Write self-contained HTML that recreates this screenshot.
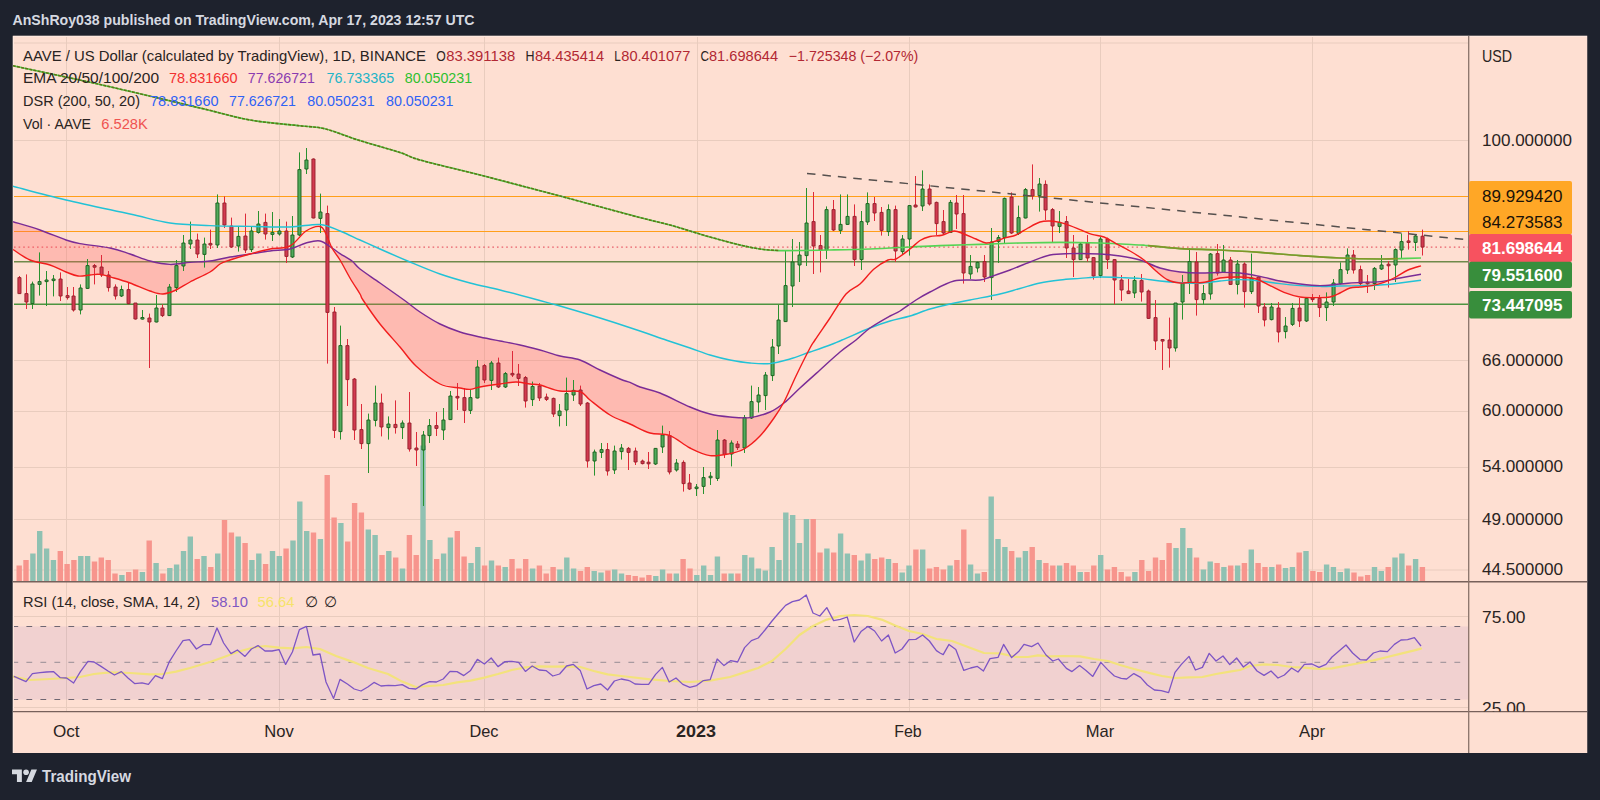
<!DOCTYPE html>
<html lang="en"><head><meta charset="utf-8"><title>AAVE / US Dollar chart</title>
<style>
html,body{margin:0;padding:0;background:#1e222d;}
body{width:1600px;height:800px;overflow:hidden;}
svg{display:block;font-family:"Liberation Sans",sans-serif;}
</style></head><body>
<svg width="1600" height="800" viewBox="0 0 1600 800">
<defs><clipPath id="cm"><rect x="13" y="36" width="1455.5" height="545.5"/></clipPath><clipPath id="cr"><rect x="13" y="582" width="1575" height="129.5"/></clipPath><clipPath id="ca"><rect x="13" y="36" width="1455.5" height="676"/></clipPath></defs>
<rect x="0" y="0" width="1600" height="800" fill="#1e222d"/>
<rect x="12.75" y="35.75" width="1574.5" height="717.25" fill="#fedfd2"/>
<path d="M13.3 753V36.3H1587" fill="none" stroke="#fff" stroke-opacity="0.35" stroke-width="1"/>
<path d="M66.5 37V711M279.5 37V711M484.5 37V711M697.5 37V711M909.5 37V711M1100.5 37V711M1312.5 37V711M14 43.0H1468M14 140.5H1468M14 360.5H1468M14 411.5H1468M14 467.5H1468M14 519.5H1468M14 570.0H1468M14 616.5H1468M14 707.5H1468" stroke="#e9ccbe" stroke-width="1" fill="none"/>
<g clip-path="url(#cm)">
<path d="M16.5 581.5V565.6h5.4V581.5zM23.3 581.5V560.0h5.4V581.5zM57.6 581.5V551.0h5.4V581.5zM64.4 581.5V564.0h5.4V581.5zM71.2 581.5V560.0h5.4V581.5zM91.8 581.5V561.6h5.4V581.5zM98.6 581.5V557.6h5.4V581.5zM105.5 581.5V560.0h5.4V581.5zM112.3 581.5V573.6h5.4V581.5zM126.0 581.5V572.0h5.4V581.5zM132.9 581.5V569.6h5.4V581.5zM146.5 581.5V540.4h5.4V581.5zM160.2 581.5V573.6h5.4V581.5zM194.5 581.5V559.0h5.4V581.5zM208.1 581.5V567.0h5.4V581.5zM221.8 581.5V520.0h5.4V581.5zM228.7 581.5V532.4h5.4V581.5zM242.4 581.5V543.0h5.4V581.5zM262.9 581.5V564.0h5.4V581.5zM283.4 581.5V548.4h5.4V581.5zM310.8 581.5V532.4h5.4V581.5zM324.5 581.5V475.0h5.4V581.5zM331.4 581.5V517.6h5.4V581.5zM345.0 581.5V541.6h5.4V581.5zM351.9 581.5V503.0h5.4V581.5zM358.7 581.5V512.4h5.4V581.5zM379.3 581.5V555.0h5.4V581.5zM393.0 581.5V557.6h5.4V581.5zM406.7 581.5V535.0h5.4V581.5zM413.5 581.5V555.0h5.4V581.5zM434.0 581.5V559.0h5.4V581.5zM454.6 581.5V531.0h5.4V581.5zM461.4 581.5V556.4h5.4V581.5zM481.9 581.5V565.6h5.4V581.5zM495.6 581.5V565.6h5.4V581.5zM509.3 581.5V559.0h5.4V581.5zM516.2 581.5V568.4h5.4V581.5zM523.0 581.5V559.0h5.4V581.5zM536.7 581.5V565.6h5.4V581.5zM543.5 581.5V573.6h5.4V581.5zM550.4 581.5V567.0h5.4V581.5zM577.8 581.5V571.0h5.4V581.5zM584.6 581.5V567.0h5.4V581.5zM605.2 581.5V570.4h5.4V581.5zM625.7 581.5V575.0h5.4V581.5zM632.5 581.5V576.0h5.4V581.5zM639.4 581.5V577.6h5.4V581.5zM646.2 581.5V575.0h5.4V581.5zM666.8 581.5V573.6h5.4V581.5zM680.4 581.5V559.0h5.4V581.5zM687.3 581.5V568.4h5.4V581.5zM721.5 581.5V573.6h5.4V581.5zM735.2 581.5V573.6h5.4V581.5zM810.5 581.5V519.0h5.4V581.5zM817.3 581.5V552.4h5.4V581.5zM831.0 581.5V552.4h5.4V581.5zM851.6 581.5V555.0h5.4V581.5zM872.1 581.5V559.0h5.4V581.5zM879.0 581.5V557.6h5.4V581.5zM892.6 581.5V563.0h5.4V581.5zM913.2 581.5V549.6h5.4V581.5zM926.9 581.5V568.4h5.4V581.5zM933.7 581.5V567.0h5.4V581.5zM940.6 581.5V569.6h5.4V581.5zM954.2 581.5V560.0h5.4V581.5zM961.1 581.5V529.6h5.4V581.5zM981.6 581.5V572.0h5.4V581.5zM1009.0 581.5V551.0h5.4V581.5zM1029.5 581.5V547.0h5.4V581.5zM1043.2 581.5V563.0h5.4V581.5zM1050.1 581.5V565.6h5.4V581.5zM1063.8 581.5V563.0h5.4V581.5zM1070.6 581.5V565.6h5.4V581.5zM1084.3 581.5V572.0h5.4V581.5zM1091.1 581.5V565.6h5.4V581.5zM1104.8 581.5V569.6h5.4V581.5zM1111.7 581.5V567.0h5.4V581.5zM1118.5 581.5V572.0h5.4V581.5zM1125.4 581.5V576.4h5.4V581.5zM1139.1 581.5V560.0h5.4V581.5zM1145.9 581.5V571.0h5.4V581.5zM1152.8 581.5V557.6h5.4V581.5zM1159.6 581.5V560.0h5.4V581.5zM1166.4 581.5V543.0h5.4V581.5zM1193.8 581.5V557.6h5.4V581.5zM1214.4 581.5V563.0h5.4V581.5zM1228.0 581.5V565.6h5.4V581.5zM1241.7 581.5V563.0h5.4V581.5zM1255.4 581.5V563.0h5.4V581.5zM1262.3 581.5V567.0h5.4V581.5zM1276.0 581.5V564.4h5.4V581.5zM1296.5 581.5V552.4h5.4V581.5zM1310.2 581.5V571.0h5.4V581.5zM1317.0 581.5V572.0h5.4V581.5zM1351.3 581.5V572.4h5.4V581.5zM1358.1 581.5V576.4h5.4V581.5zM1364.9 581.5V575.0h5.4V581.5zM1385.5 581.5V567.0h5.4V581.5zM1406.0 581.5V565.6h5.4V581.5zM1419.7 581.5V567.0h5.4V581.5z" fill="#f7958d"/>
<path d="M30.2 581.5V553.6h5.4V581.5zM37.0 581.5V531.0h5.4V581.5zM43.9 581.5V548.4h5.4V581.5zM50.7 581.5V560.0h5.4V581.5zM78.1 581.5V556.0h5.4V581.5zM84.9 581.5V556.0h5.4V581.5zM119.2 581.5V575.0h5.4V581.5zM139.7 581.5V572.0h5.4V581.5zM153.4 581.5V563.0h5.4V581.5zM167.1 581.5V568.0h5.4V581.5zM173.9 581.5V564.4h5.4V581.5zM180.8 581.5V551.0h5.4V581.5zM187.6 581.5V536.4h5.4V581.5zM201.3 581.5V556.0h5.4V581.5zM215.0 581.5V553.6h5.4V581.5zM235.5 581.5V536.4h5.4V581.5zM249.2 581.5V560.0h5.4V581.5zM256.1 581.5V553.6h5.4V581.5zM269.8 581.5V551.0h5.4V581.5zM276.6 581.5V556.0h5.4V581.5zM290.3 581.5V540.4h5.4V581.5zM297.1 581.5V501.6h5.4V581.5zM304.0 581.5V531.0h5.4V581.5zM317.7 581.5V539.0h5.4V581.5zM338.2 581.5V523.0h5.4V581.5zM365.6 581.5V529.6h5.4V581.5zM372.4 581.5V535.0h5.4V581.5zM386.1 581.5V551.0h5.4V581.5zM399.8 581.5V568.4h5.4V581.5zM420.3 581.5V445.6h5.4V581.5zM427.2 581.5V540.0h5.4V581.5zM440.9 581.5V553.6h5.4V581.5zM447.7 581.5V537.6h5.4V581.5zM468.3 581.5V563.0h5.4V581.5zM475.1 581.5V547.0h5.4V581.5zM488.8 581.5V560.4h5.4V581.5zM502.5 581.5V567.0h5.4V581.5zM529.9 581.5V568.4h5.4V581.5zM557.2 581.5V569.6h5.4V581.5zM564.1 581.5V557.6h5.4V581.5zM570.9 581.5V568.4h5.4V581.5zM591.5 581.5V571.0h5.4V581.5zM598.3 581.5V572.4h5.4V581.5zM612.0 581.5V569.6h5.4V581.5zM618.8 581.5V573.6h5.4V581.5zM653.1 581.5V576.0h5.4V581.5zM659.9 581.5V569.6h5.4V581.5zM673.6 581.5V573.6h5.4V581.5zM694.1 581.5V575.0h5.4V581.5zM701.0 581.5V565.6h5.4V581.5zM707.8 581.5V575.0h5.4V581.5zM714.7 581.5V556.4h5.4V581.5zM728.4 581.5V573.6h5.4V581.5zM742.1 581.5V555.0h5.4V581.5zM748.9 581.5V557.6h5.4V581.5zM755.7 581.5V568.4h5.4V581.5zM762.6 581.5V570.4h5.4V581.5zM769.4 581.5V547.0h5.4V581.5zM776.3 581.5V560.0h5.4V581.5zM783.1 581.5V512.4h5.4V581.5zM790.0 581.5V515.0h5.4V581.5zM796.8 581.5V543.0h5.4V581.5zM803.7 581.5V519.0h5.4V581.5zM824.2 581.5V548.4h5.4V581.5zM837.9 581.5V533.6h5.4V581.5zM844.7 581.5V553.6h5.4V581.5zM858.4 581.5V560.4h5.4V581.5zM865.3 581.5V553.6h5.4V581.5zM885.8 581.5V559.0h5.4V581.5zM899.5 581.5V572.4h5.4V581.5zM906.3 581.5V565.6h5.4V581.5zM920.0 581.5V549.6h5.4V581.5zM947.4 581.5V565.6h5.4V581.5zM967.9 581.5V564.4h5.4V581.5zM974.8 581.5V573.6h5.4V581.5zM988.5 581.5V496.4h5.4V581.5zM995.3 581.5V539.0h5.4V581.5zM1002.2 581.5V547.0h5.4V581.5zM1015.9 581.5V557.6h5.4V581.5zM1022.7 581.5V551.0h5.4V581.5zM1036.4 581.5V560.0h5.4V581.5zM1056.9 581.5V565.6h5.4V581.5zM1077.5 581.5V572.0h5.4V581.5zM1098.0 581.5V555.0h5.4V581.5zM1132.2 581.5V572.0h5.4V581.5zM1173.3 581.5V548.0h5.4V581.5zM1180.1 581.5V528.0h5.4V581.5zM1187.0 581.5V548.0h5.4V581.5zM1200.7 581.5V569.6h5.4V581.5zM1207.5 581.5V561.6h5.4V581.5zM1221.2 581.5V567.0h5.4V581.5zM1234.9 581.5V565.6h5.4V581.5zM1248.6 581.5V549.6h5.4V581.5zM1269.1 581.5V567.0h5.4V581.5zM1282.8 581.5V568.0h5.4V581.5zM1289.7 581.5V567.0h5.4V581.5zM1303.3 581.5V551.0h5.4V581.5zM1323.9 581.5V564.4h5.4V581.5zM1330.7 581.5V567.0h5.4V581.5zM1337.6 581.5V572.0h5.4V581.5zM1344.4 581.5V568.4h5.4V581.5zM1371.8 581.5V567.0h5.4V581.5zM1378.6 581.5V571.0h5.4V581.5zM1392.3 581.5V557.6h5.4V581.5zM1399.2 581.5V553.6h5.4V581.5zM1412.9 581.5V559.0h5.4V581.5z" fill="#8fc1b2"/>
<path d="M14 196.5H1468M14 231.5H1468" stroke="#ff9f1a" stroke-width="1.1" fill="none"/>
<path d="M14 261.7H1468" stroke="#6f8a4a" stroke-width="1.6" fill="none"/>
<path d="M14 304.3H1468" stroke="#4d9440" stroke-width="1.4" fill="none"/>
<path d="M14 247.2H1468" stroke="#e8606b" stroke-width="1.2" stroke-dasharray="1.6 3" fill="none"/>
<path d="M13 221.7 14 222.0 15 222.3 16 222.6 17 222.9 18 223.2 19 223.5 20 223.9 21 224.2 22 224.5 23 224.8 24 225.1 25 225.4 26 225.7 27 226.0 28 226.3 29 226.6 30 226.9 31 227.2 32 227.5 33 227.8 34 228.2 35 228.5 36 228.8 37 229.1 38 229.4 39 229.7 40 230.0 41 230.4 42 230.8 43 231.2 44 231.5 45 231.9 46 232.3 47 232.7 48 233.1 49 233.5 50 233.8 51 234.2 52 234.6 53 235.0 54 235.4 55 235.8 56 236.2 57 236.5 58 236.9 59 237.3 60 237.7 61 238.1 62 238.5 63 238.8 64 239.2 65 239.6 66 240.0 67 240.3 68 240.5 69 240.8 70 241.0 71 241.3 72 241.5 73 241.8 74 242.1 75 242.3 76 242.6 77 242.8 78 243.1 79 243.3 80 243.6 81 243.7 82 243.9 83 244.0 84 244.2 85 244.3 86 244.5 87 244.6 88 244.8 89 244.9 90 245.1 91 245.2 92 245.4 93 245.5 94 245.7 95 245.8 96 245.9 97 246.1 98 246.2 99 246.4 100 246.5 101 246.7 102 246.8 103 247.0 104 247.1 105 247.3 106 247.4 107 247.6 108 247.7 109 247.9 110 248.0 111 248.3 112 248.6 113 248.9 114 249.2 115 249.5 116 249.8 117 250.1 118 250.4 119 250.7 120 251.0 121 251.3 122 251.6 123 251.9 124 252.2 125 252.5 126 252.8 127 253.1 128 253.4 129 253.7 130 254.0 131 254.3 132 254.7 133 255.1 134 255.4 135 255.8 136 256.1 137 256.4 138 256.8 139 257.1 140 257.5 141 257.9 142 258.2 143 258.6 144 258.9 145 259.2 146 259.6 147 259.9 148 260.3 149 260.6 150 261.0 151 261.2 152 261.3 153 261.5 154 261.7 155 261.9 156 262.0 157 262.2 158 262.4 159 262.5 160 262.7 161 262.9 162 263.0 163 263.2 164 263.4 165 263.5 166 263.7 167 263.9 168 264.1 169 264.2 170 264.4 171 264.3 172 264.2 173 264.1 174 264.0 175 263.9 176 263.8 177 263.7 178 263.6 179 263.5 180 263.4 181 263.3 182 263.2 183 263.1 184 263.0 185 262.9 186 262.8 187 262.7 188 262.6 189 262.5 190 262.4 191 262.3 192 262.3 193 262.2 194 262.1 195 262.0 196 262.0 197 261.9 198 261.8 199 261.8 200 261.7 201 261.6 202 261.6 203 261.5 204 261.4 205 261.4 206 261.3 207 261.2 208 261.1 209 261.1 210 261.0 211 260.8 212 260.6 213 260.4 214 260.2 215 260.0 216 259.8 217 259.6 218 259.4 219 259.2 220 259.0 221 258.8 222 258.6 223 258.4 224 258.2 225 258.0 226 257.8 227 257.6 228 257.4 229 257.2 230 257.0 231 256.9 232 256.7 233 256.6 234 256.4 235 256.2 236 256.1 237 255.9 238 255.8 239 255.7 240 255.5 241 255.3 242 255.2 243 255.1 244 254.9 245 254.8 246 254.6 247 254.4 248 254.3 249 254.2 L249 254.3 248 254.6 247 254.9 246 255.2 245 255.5 244 255.8 243 256.1 242 256.4 241 256.7 240 257.0 239 257.3 238 257.6 237 257.9 236 258.2 235 258.5 234 258.8 233 259.1 232 259.4 231 259.7 230 260.0 229 260.4 228 260.8 227 261.2 226 261.6 225 262.0 224 262.4 223 262.8 222 263.2 221 263.6 220 264.0 219 264.8 218 265.6 217 266.4 216 267.2 215 268.0 214 268.8 213 269.6 212 270.4 211 271.2 210 272.0 209 272.5 208 273.0 207 273.5 206 274.0 205 274.5 204 275.0 203 275.5 202 276.0 201 276.5 200 277.0 199 277.5 198 278.0 197 278.5 196 279.0 195 279.5 194 280.0 193 280.5 192 281.0 191 281.5 190 282.0 189 282.6 188 283.1 187 283.7 186 284.3 185 284.9 184 285.4 183 286.0 182 286.6 181 287.1 180 287.7 179 288.3 178 288.9 177 289.4 176 290.0 175 290.3 174 290.6 173 290.9 172 291.2 171 291.5 170 291.8 169 292.2 168 292.5 167 292.8 166 293.1 165 293.4 164 293.7 163 294.0 162 293.8 161 293.5 160 293.3 159 293.1 158 292.8 157 292.6 156 292.4 155 292.2 154 291.9 153 291.7 152 291.5 151 291.2 150 291.0 149 290.6 148 290.2 147 289.8 146 289.4 145 289.0 144 288.6 143 288.2 142 287.8 141 287.4 140 287.0 139 286.6 138 286.2 137 285.8 136 285.4 135 285.0 134 284.6 133 284.2 132 283.8 131 283.4 130 283.0 129 282.7 128 282.4 127 282.1 126 281.8 125 281.4 124 281.1 123 280.8 122 280.5 121 280.2 120 279.9 119 279.6 118 279.2 117 278.9 116 278.6 115 278.3 114 278.0 113 277.7 112 277.5 111 277.2 110 277.0 109 276.7 108 276.5 107 276.2 106 275.9 105 275.7 104 275.4 103 275.2 102 274.9 101 274.7 100 274.4 99 274.5 98 274.5 97 274.6 96 274.6 95 274.7 94 274.8 93 274.8 92 274.9 91 274.9 90 275.0 89 275.1 88 275.2 87 275.2 86 275.3 85 275.4 84 275.5 83 275.6 82 275.7 81 275.8 80 275.8 79 275.9 78 276.0 77 275.7 76 275.3 75 275.0 74 274.7 73 274.3 72 274.0 71 273.7 70 273.3 69 273.0 68 272.7 67 272.3 66 272.0 65 271.6 64 271.1 63 270.7 62 270.2 61 269.8 60 269.4 59 268.9 58 268.5 57 268.1 56 267.6 55 267.2 54 266.8 53 266.3 52 265.9 51 265.4 50 265.0 49 264.8 48 264.5 47 264.2 46 264.0 45 263.8 44 263.5 43 263.2 42 263.0 41 262.8 40 262.5 39 262.2 38 262.0 37 261.8 36 261.5 35 261.2 34 261.0 33 260.8 32 260.5 31 260.2 30 260.0 29 259.4 28 258.8 27 258.1 26 257.5 25 256.9 24 256.3 23 255.7 22 255.1 21 254.4 20 253.8 19 253.2 18 252.6 17 252.0 16 251.4 15 250.7 14 250.1 13 249.5zM333 248.7 334 249.4 335 250.1 336 250.8 337 251.5 338 252.2 339 252.9 340 253.6 341 254.2 342 254.8 343 255.4 344 256.1 345 256.7 346 257.3 347 257.9 348 258.5 349 259.1 350 259.8 351 260.4 352 261.0 353 262.0 354 263.0 355 264.0 356 265.0 357 266.0 358 267.0 359 268.0 360 269.0 361 269.7 362 270.4 363 271.1 364 271.8 365 272.5 366 273.2 367 273.9 368 274.6 369 275.3 370 276.0 371 276.7 372 277.4 373 278.1 374 278.8 375 279.5 376 280.2 377 280.9 378 281.6 379 282.3 380 283.0 381 283.7 382 284.4 383 285.1 384 285.8 385 286.5 386 287.2 387 288.0 388 288.7 389 289.4 390 290.1 391 290.8 392 291.5 393 292.2 394 292.9 395 293.6 396 294.3 397 295.0 398 295.8 399 296.5 400 297.2 401 297.9 402 298.6 403 299.3 404 300.0 405 300.8 406 301.5 407 302.2 408 303.0 409 303.8 410 304.5 411 305.2 412 306.0 413 306.8 414 307.5 415 308.2 416 309.0 417 309.8 418 310.5 419 311.2 420 312.0 421 312.6 422 313.2 423 313.8 424 314.4 425 315.0 426 315.6 427 316.2 428 316.8 429 317.4 430 318.0 431 318.6 432 319.2 433 319.8 434 320.4 435 321.0 436 321.6 437 322.2 438 322.8 439 323.4 440 324.0 441 324.4 442 324.8 443 325.2 444 325.6 445 326.0 446 326.4 447 326.8 448 327.2 449 327.6 450 328.0 451 328.4 452 328.8 453 329.2 454 329.6 455 330.0 456 330.4 457 330.8 458 331.2 459 331.6 460 332.0 461 332.2 462 332.5 463 332.8 464 333.0 465 333.2 466 333.5 467 333.8 468 334.0 469 334.2 470 334.5 471 334.8 472 335.0 473 335.2 474 335.5 475 335.8 476 336.0 477 336.2 478 336.5 479 336.8 480 337.0 481 337.2 482 337.4 483 337.6 484 337.8 485 338.0 486 338.2 487 338.4 488 338.6 489 338.8 490 339.0 491 339.2 492 339.4 493 339.6 494 339.8 495 340.0 496 340.2 497 340.4 498 340.6 499 340.8 500 341.0 501 341.2 502 341.4 503 341.6 504 341.8 505 342.0 506 342.2 507 342.4 508 342.6 509 342.8 510 343.0 511 343.2 512 343.4 513 343.6 514 343.8 515 344.0 516 344.2 517 344.4 518 344.6 519 344.8 520 345.0 521 345.2 522 345.5 523 345.8 524 346.0 525 346.2 526 346.5 527 346.8 528 347.0 529 347.2 530 347.5 531 347.8 532 348.0 533 348.2 534 348.5 535 348.8 536 349.0 537 349.2 538 349.5 539 349.8 540 350.0 541 350.3 542 350.6 543 350.9 544 351.2 545 351.5 546 351.8 547 352.1 548 352.4 549 352.7 550 353.0 551 353.3 552 353.6 553 353.9 554 354.2 555 354.5 556 354.8 557 355.1 558 355.4 559 355.7 560 356.0 561 356.2 562 356.4 563 356.6 564 356.8 565 357.0 566 357.2 567 357.4 568 357.6 569 357.8 570 358.0 571 358.2 572 358.4 573 358.6 574 358.8 575 359.0 576 359.2 577 359.4 578 359.6 579 359.8 580 360.0 581 360.5 582 361.0 583 361.5 584 362.0 585 362.5 586 363.0 587 363.5 588 364.0 589 364.5 590 365.0 591 365.5 592 366.0 593 366.5 594 367.0 595 367.5 596 368.0 597 368.5 598 369.0 599 369.5 600 370.0 601 370.4 602 370.9 603 371.4 604 371.8 605 372.2 606 372.7 607 373.1 608 373.6 609 374.1 610 374.5 611 374.9 612 375.4 613 375.9 614 376.3 615 376.8 616 377.2 617 377.6 618 378.1 619 378.6 620 379.0 621 379.3 622 379.7 623 380.0 624 380.4 625 380.7 626 381.0 627 381.4 628 381.7 629 382.1 630 382.4 631 382.9 632 383.3 633 383.8 634 384.2 635 384.7 636 385.2 637 385.6 638 386.1 639 386.5 640 387.0 641 387.3 642 387.6 643 387.9 644 388.2 645 388.5 646 388.8 647 389.1 648 389.4 649 389.7 650 390.0 651 390.3 652 390.6 653 390.9 654 391.2 655 391.5 656 391.8 657 392.1 658 392.4 659 392.7 660 393.0 661 393.5 662 393.9 663 394.4 664 394.9 665 395.3 666 395.8 667 396.3 668 396.7 669 397.2 670 397.7 671 398.1 672 398.6 673 399.1 674 399.5 675 400.0 676 400.5 677 400.9 678 401.4 679 401.9 680 402.3 681 402.8 682 403.3 683 403.7 684 404.2 685 404.7 686 405.1 687 405.6 688 406.1 689 406.5 690 407.0 691 407.4 692 407.7 693 408.1 694 408.4 695 408.8 696 409.1 697 409.4 698 409.8 699 410.1 700 410.5 701 410.9 702 411.2 703 411.6 704 411.9 705 412.2 706 412.6 707 412.9 708 413.3 709 413.6 710 414.0 711 414.1 712 414.3 713 414.4 714 414.6 715 414.8 716 414.9 717 415.1 718 415.2 719 415.4 720 415.5 721 415.6 722 415.8 723 415.9 724 416.1 725 416.2 726 416.4 727 416.6 728 416.7 729 416.9 730 417.0 731 417.0 732 417.1 733 417.1 734 417.1 735 417.1 736 417.2 737 417.2 738 417.2 739 417.3 740 417.3 741 417.3 742 417.4 743 417.4 744 417.4 745 417.5 746 417.5 747 417.5 748 417.5 749 417.6 750 417.6 751 417.3 752 417.0 753 416.8 754 416.5 755 416.2 756 415.9 757 415.6 758 415.4 759 415.1 760 414.8 761 414.5 762 414.2 763 414.0 764 413.7 765 413.4 766 413.1 767 412.8 768 412.6 769 412.3 770 412.0 771 411.4 772 410.7 773 410.1 774 409.4 775 408.8 776 408.1 777 407.5 778 406.9 779 406.2 780 405.6 781 404.9 782 404.3 L782 405.2 781 406.8 780 408.4 779 410.0 778 411.6 777 413.2 776 414.8 775 416.4 774 418.0 773 419.3 772 420.6 771 421.9 770 423.1 769 424.4 768 425.7 767 427.0 766 428.3 765 429.6 764 430.9 763 432.1 762 433.4 761 434.7 760 436.0 759 436.8 758 437.6 757 438.4 756 439.2 755 440.1 754 440.9 753 441.7 752 442.5 751 443.3 750 444.1 749 444.9 748 445.8 747 446.6 746 447.4 745 448.2 744 449.0 743 449.3 742 449.7 741 450.0 740 450.3 739 450.6 738 451.0 737 451.3 736 451.6 735 452.0 734 452.3 733 452.6 732 452.9 731 453.3 730 453.6 729 453.7 728 453.8 727 453.9 726 454.0 725 454.1 724 454.2 723 454.3 722 454.4 721 454.5 720 454.6 719 454.7 718 454.8 717 454.9 716 455.0 715 455.1 714 455.2 713 455.3 712 455.4 711 455.5 710 455.6 709 455.2 708 454.8 707 454.5 706 454.1 705 453.7 704 453.3 703 452.9 702 452.6 701 452.2 700 451.8 699 451.4 698 451.0 697 450.7 696 450.3 695 449.9 694 449.5 693 449.1 692 448.8 691 448.4 690 448.0 689 447.4 688 446.8 687 446.1 686 445.5 685 444.9 684 444.3 683 443.7 682 443.0 681 442.4 680 441.8 679 441.2 678 440.6 677 439.9 676 439.3 675 438.7 674 438.1 673 437.5 672 436.8 671 436.2 670 435.6 669 435.5 668 435.3 667 435.2 666 435.1 665 435.0 664 434.8 663 434.7 662 434.6 661 434.4 660 434.3 659 434.2 658 434.0 657 433.9 656 433.8 655 433.6 654 433.5 653 433.4 652 433.3 651 433.1 650 433.0 649 432.6 648 432.1 647 431.6 646 431.2 645 430.8 644 430.3 643 429.9 642 429.4 641 428.9 640 428.5 639 428.1 638 427.6 637 427.1 636 426.7 635 426.2 634 425.8 633 425.4 632 424.9 631 424.4 630 424.0 629 423.6 628 423.1 627 422.6 626 422.2 625 421.8 624 421.3 623 420.9 622 420.4 621 419.9 620 419.5 619 419.1 618 418.6 617 418.1 616 417.7 615 417.2 614 416.8 613 416.4 612 415.9 611 415.4 610 415.0 609 414.2 608 413.5 607 412.8 606 412.0 605 411.2 604 410.5 603 409.8 602 409.0 601 408.2 600 407.5 599 406.8 598 406.0 597 405.2 596 404.5 595 403.8 594 403.0 593 402.2 592 401.5 591 400.8 590 400.0 589 399.2 588 398.3 587 397.5 586 396.6 585 395.8 584 395.0 583 394.1 582 393.3 581 392.4 580 391.6 579 391.6 578 391.5 577 391.5 576 391.5 575 391.5 574 391.4 573 391.4 572 391.4 571 391.3 570 391.3 569 391.3 568 391.2 567 391.2 566 391.2 565 391.1 564 391.1 563 391.1 562 391.1 561 391.0 560 391.0 559 390.7 558 390.4 557 390.1 556 389.8 555 389.5 554 389.2 553 388.9 552 388.6 551 388.3 550 388.0 549 387.7 548 387.4 547 387.1 546 386.8 545 386.5 544 386.2 543 385.9 542 385.6 541 385.3 540 385.0 539 384.9 538 384.8 537 384.7 536 384.6 535 384.5 534 384.4 533 384.3 532 384.2 531 384.1 530 384.0 529 383.9 528 383.7 527 383.6 526 383.4 525 383.3 524 383.1 523 383.0 522 382.9 521 382.7 520 382.6 519 382.4 518 382.3 517 382.1 516 382.0 515 382.1 514 382.2 513 382.4 512 382.5 511 382.6 510 382.8 509 382.9 508 383.0 507 383.1 506 383.2 505 383.4 504 383.5 503 383.6 502 383.8 501 383.9 500 384.0 499 384.1 498 384.3 497 384.4 496 384.6 495 384.8 494 384.9 493 385.1 492 385.2 491 385.4 490 385.5 489 385.6 488 385.8 487 385.9 486 386.1 485 386.2 484 386.4 483 386.6 482 386.7 481 386.9 480 387.0 479 387.2 478 387.5 477 387.7 476 388.0 475 388.2 474 388.4 473 388.7 472 388.9 471 389.2 470 389.4 469 389.3 468 389.1 467 389.0 466 388.8 465 388.7 464 388.6 463 388.4 462 388.3 461 388.1 460 388.0 459 387.8 458 387.6 457 387.4 456 387.2 455 387.0 454 386.8 453 386.6 452 386.4 451 386.2 450 386.0 449 385.8 448 385.6 447 385.4 446 385.2 445 385.0 444 384.8 443 384.6 442 384.4 441 384.2 440 384.0 439 383.2 438 382.5 437 381.8 436 381.0 435 380.2 434 379.5 433 378.8 432 378.0 431 377.2 430 376.5 429 375.8 428 375.0 427 374.2 426 373.5 425 372.8 424 372.0 423 371.2 422 370.5 421 369.8 420 369.0 419 368.2 418 367.5 417 366.8 416 366.0 415 364.8 414 363.6 413 362.4 412 361.2 411 360.1 410 358.9 409 357.7 408 356.5 407 355.3 406 354.1 405 352.9 404 351.8 403 350.6 402 349.4 401 348.2 400 347.0 399 345.9 398 344.7 397 343.6 396 342.4 395 341.2 394 340.1 393 338.9 392 337.8 391 336.6 390 335.5 389 334.4 388 333.2 387 332.1 386 330.9 385 329.8 384 328.6 383 327.4 382 326.3 381 325.1 380 324.0 379 322.6 378 321.2 377 319.8 376 318.4 375 316.9 374 315.5 373 314.1 372 312.7 371 311.3 370 309.9 369 308.5 368 307.1 367 305.6 366 304.2 365 302.8 364 301.4 363 300.0 362 298.0 361 296.0 360 294.0 359 292.4 358 290.8 357 289.2 356 287.6 355 286.0 354 284.4 353 282.8 352 281.2 351 279.6 350 278.0 349 276.2 348 274.4 347 272.6 346 270.8 345 269.0 344 267.2 343 265.4 342 263.6 341 261.8 340 260.0 339 258.5 338 257.0 337 255.5 336 254.0 335 252.5 334 251.0 333 249.5zM1148 263.2 1149 263.6 1150 264.0 1151 264.4 1152 264.8 1153 265.2 1154 265.6 1155 266.0 1156 266.4 1157 266.8 1158 267.2 1159 267.6 1160 268.0 1161 268.2 1162 268.4 1163 268.6 1164 268.8 1165 269.0 1166 269.2 1167 269.4 1168 269.6 1169 269.8 1170 270.0 1171 270.2 1172 270.4 1173 270.6 1174 270.8 1175 271.0 1176 271.2 1177 271.4 1178 271.6 1179 271.8 1180 272.0 1181 272.1 1182 272.1 1183 272.1 1184 272.2 1185 272.2 1186 272.3 1187 272.4 1188 272.4 1189 272.4 1190 272.5 1191 272.6 1192 272.6 1193 272.6 1194 272.7 1195 272.8 1196 272.8 1197 272.9 1198 272.9 1199 272.9 1200 273.0 1201 273.0 1202 272.9 1203 272.9 1204 272.9 1205 272.9 1206 272.8 1207 272.8 1208 272.8 1209 272.7 1210 272.7 1211 272.7 1212 272.6 1213 272.6 1214 272.6 1215 272.5 1216 272.5 1217 272.5 1218 272.5 1219 272.4 1220 272.4 1221 272.4 1222 272.5 1223 272.5 1224 272.5 1225 272.5 1226 272.6 1227 272.6 1228 272.6 1229 272.7 1230 272.7 1231 272.7 1232 272.8 1233 272.8 1234 272.8 1235 272.9 1236 272.9 1237 272.9 1238 272.9 1239 273.0 1240 273.0 1241 273.2 1242 273.3 1243 273.5 1244 273.7 1245 273.9 1246 274.0 1247 274.2 1248 274.4 1249 274.5 1250 274.7 1251 274.9 1252 275.0 1253 275.2 1254 275.4 1255 275.5 1256 275.7 1257 275.9 1258 276.1 1259 276.2 1260 276.4 1261 276.6 1262 276.9 1263 277.1 1264 277.3 1265 277.5 1266 277.8 1267 278.0 1268 278.2 1269 278.5 1270 278.7 1271 278.9 1272 279.2 1273 279.4 1274 279.6 1275 279.9 1276 280.1 1277 280.3 1278 280.5 1279 280.8 1280 281.0 1281 281.1 1282 281.3 1283 281.4 1284 281.6 1285 281.8 1286 281.9 1287 282.1 1288 282.2 1289 282.4 1290 282.5 1291 282.6 1292 282.8 1293 282.9 1294 283.1 1295 283.2 1296 283.4 1297 283.6 1298 283.7 1299 283.9 1300 284.0 1301 284.1 1302 284.2 1303 284.2 1304 284.3 1305 284.4 1306 284.5 1307 284.6 1308 284.6 1309 284.7 1310 284.8 1311 284.9 1312 285.0 1313 285.0 1314 285.1 1315 285.2 1316 285.3 1317 285.4 1318 285.4 1319 285.5 1320 285.6 1321 285.5 1322 285.4 1323 285.4 1324 285.3 1325 285.2 1326 285.1 1327 285.0 1328 285.0 1329 284.9 1330 284.8 1331 284.7 1332 284.6 1333 284.6 1334 284.5 1335 284.4 1336 284.3 1337 284.2 1338 284.2 1339 284.1 1340 284.0 1341 283.9 1342 283.8 1343 283.8 1344 283.7 1345 283.6 1346 283.5 1347 283.4 1348 283.4 1349 283.3 1350 283.2 1351 283.1 1352 283.0 1353 283.0 1354 282.9 1355 282.8 1356 282.7 1357 282.6 1358 282.6 1359 282.5 1360 282.4 1361 282.4 1362 282.3 1363 282.3 1364 282.2 1365 282.2 1366 282.2 1367 282.1 1368 282.1 1369 282.0 1370 282.0 1371 282.0 1372 281.9 1373 281.9 1374 281.8 1375 281.8 1376 281.8 1377 281.7 1378 281.7 1379 281.6 1380 281.6 1381 281.4 1382 281.2 1383 281.1 1384 280.9 1385 280.7 1386 280.5 1387 280.3 1388 280.2 1389 280.0 L1389 280.1 1388 280.6 1387 281.0 1386 281.5 1385 281.9 1384 282.4 1383 282.7 1382 282.9 1381 283.2 1380 283.5 1379 283.7 1378 284.0 1377 284.3 1376 284.5 1375 284.8 1374 285.1 1373 285.3 1372 285.6 1371 285.7 1370 285.8 1369 286.0 1368 286.1 1367 286.2 1366 286.3 1365 286.4 1364 286.5 1363 286.6 1362 286.8 1361 286.9 1360 287.0 1359 287.1 1358 287.2 1357 287.3 1356 287.4 1355 287.5 1354 287.6 1353 287.7 1352 287.8 1351 287.9 1350 288.0 1349 288.5 1348 289.0 1347 289.5 1346 290.0 1345 290.5 1344 291.0 1343 291.5 1342 292.0 1341 292.5 1340 293.0 1339 293.4 1338 293.8 1337 294.2 1336 294.6 1335 295.0 1334 295.4 1333 295.8 1332 296.2 1331 296.6 1330 297.0 1329 297.0 1328 297.1 1327 297.1 1326 297.2 1325 297.2 1324 297.3 1323 297.3 1322 297.3 1321 297.4 1320 297.4 1319 297.5 1318 297.5 1317 297.6 1316 297.6 1315 297.6 1314 297.5 1313 297.5 1312 297.5 1311 297.4 1310 297.4 1309 297.3 1308 297.3 1307 297.3 1306 297.2 1305 297.2 1304 297.1 1303 297.1 1302 297.1 1301 297.0 1300 297.0 1299 296.7 1298 296.4 1297 296.1 1296 295.9 1295 295.6 1294 295.3 1293 295.0 1292 294.7 1291 294.4 1290 294.1 1289 293.8 1288 293.5 1287 293.3 1286 293.0 1285 292.7 1284 292.4 1283 291.9 1282 291.4 1281 290.9 1280 290.5 1279 290.0 1278 289.5 1277 289.0 1276 288.5 1275 288.0 1274 287.5 1273 287.1 1272 286.6 1271 286.1 1270 285.6 1269 285.1 1268 284.7 1267 284.2 1266 283.7 1265 283.2 1264 282.8 1263 282.3 1262 281.8 1261 281.4 1260 280.9 1259 280.4 1258 279.9 1257 279.5 1256 279.0 1255 278.9 1254 278.8 1253 278.6 1252 278.5 1251 278.4 1250 278.2 1249 278.1 1248 278.0 1247 277.9 1246 277.8 1245 277.6 1244 277.5 1243 277.4 1242 277.2 1241 277.1 1240 277.0 1239 277.1 1238 277.1 1237 277.1 1236 277.2 1235 277.2 1234 277.3 1233 277.4 1232 277.4 1231 277.4 1230 277.5 1229 277.6 1228 277.6 1227 277.6 1226 277.7 1225 277.8 1224 277.8 1223 277.9 1222 277.9 1221 277.9 1220 278.0 1219 278.3 1218 278.6 1217 278.9 1216 279.2 1215 279.5 1214 279.8 1213 280.1 1212 280.4 1211 280.7 1210 281.0 1209 281.2 1208 281.3 1207 281.5 1206 281.7 1205 281.9 1204 282.0 1203 282.2 1202 282.4 1201 282.5 1200 282.7 1199 282.7 1198 282.6 1197 282.6 1196 282.6 1195 282.5 1194 282.5 1193 282.5 1192 282.5 1191 282.4 1190 282.4 1189 282.5 1188 282.5 1187 282.6 1186 282.6 1185 282.7 1184 282.8 1183 282.8 1182 282.9 1181 282.9 1180 283.0 1179 282.8 1178 282.5 1177 282.2 1176 282.0 1175 281.8 1174 281.5 1173 281.2 1172 281.0 1171 280.8 1170 280.5 1169 280.2 1168 280.0 1167 279.2 1166 278.5 1165 277.8 1164 277.0 1163 276.2 1162 275.5 1161 274.8 1160 274.0 1159 273.2 1158 272.5 1157 271.8 1156 271.0 1155 270.1 1154 269.2 1153 268.2 1152 267.3 1151 266.4 1150 265.5 1149 264.6 1148 263.7z" fill="#ff5a5a" fill-opacity="0.27"/>
<path d="M32.5 281.6V309.0M39.5 252.4V295.6M46.5 271.0V306.0M53.5 275.0V296.4M80.5 284.4V314.4M87.5 259.0V289.0M121.5 285.6V297.0M142.5 310.0V319.6M156.5 295.0V322.4M169.5 284.0V316.0M176.5 260.0V292.0M183.5 235.0V271.0M190.5 221.6V249.0M204.5 237.6V267.6M217.5 194.4V248.0M238.5 226.0V251.6M251.5 226.0V252.0M258.5 211.0V233.6M272.5 212.0V241.0M279.5 219.0V235.6M292.5 216.0V258.0M299.5 152.4V236.0M306.5 148.0V174.0M320.5 193.6V233.0M340.5 325.6V439.6M368.5 413.6V473.0M375.5 385.6V426.4M388.5 416.4V439.6M402.5 420.4V439.0M423.5 431.0V506.0M429.5 419.0V443.0M443.5 408.0V440.0M450.5 391.0V420.0M470.5 390.0V414.0M477.5 360.0V398.4M491.5 361.0V390.0M505.5 372.0V388.0M532.5 381.6V406.0M559.5 404.0V426.4M566.5 377.6V426.0M573.5 380.0V401.0M594.5 449.6V475.6M601.5 443.0V458.0M614.5 445.6V474.0M621.5 444.0V459.6M655.5 448.0V465.0M662.5 425.6V453.0M676.5 459.0V471.6M696.5 484.0V496.0M703.5 467.0V494.0M710.5 472.0V485.0M717.5 430.0V481.0M731.5 440.4V466.4M744.5 415.0V453.0M751.5 385.6V419.0M758.5 387.0V412.4M765.5 372.0V410.0M772.5 339.0V381.0M778.5 305.0V354.0M785.5 251.0V322.0M792.5 239.0V307.0M799.5 242.0V282.0M806.5 188.0V266.0M826.5 206.4V259.0M840.5 194.4V234.0M847.5 194.4V225.0M861.5 211.0V270.0M867.5 192.4V225.0M888.5 204.4V236.0M902.5 235.0V255.0M909.5 205.0V255.6M922.5 170.4V211.0M950.5 200.0V233.0M970.5 255.0V279.0M977.5 261.6V272.4M991.5 228.0V300.0M998.5 235.0V263.0M1004.5 197.6V243.6M1018.5 205.6V235.0M1025.5 188.0V218.4M1039.5 178.0V211.6M1059.5 211.0V233.0M1080.5 242.4V260.0M1100.5 237.0V278.0M1134.5 276.0V298.0M1175.5 303.0V351.6M1182.5 275.0V319.6M1189.5 248.0V294.0M1203.5 285.0V304.4M1210.5 253.0V299.6M1223.5 245.0V273.0M1237.5 260.0V294.4M1251.5 253.6V294.0M1271.5 303.0V320.4M1285.5 317.0V338.4M1292.5 303.0V326.0M1306.5 297.0V322.0M1326.5 292.4V321.0M1333.5 279.0V306.0M1340.5 262.4V284.4M1347.5 248.4V274.0M1374.5 267.0V290.0M1381.5 255.0V270.0M1395.5 248.4V282.0M1401.5 233.6V258.0M1415.5 235.0V251.0" stroke="#2a9230" stroke-width="1" fill="none"/>
<path d="M19.5 276.0V294.0M26.5 274.4V309.0M60.5 272.4V301.0M67.5 287.0V299.6M73.5 287.0V311.6M94.5 264.0V284.4M101.5 255.0V277.0M108.5 271.0V291.6M115.5 284.4V299.6M128.5 283.0V304.4M135.5 303.0V319.6M149.5 313.6V368.0M162.5 304.4V317.0M197.5 233.6V258.0M210.5 229.6V249.0M224.5 196.4V228.0M231.5 217.6V248.0M245.5 213.6V253.0M265.5 213.6V239.6M286.5 221.6V263.0M313.5 158.4V218.4M327.5 205.6V363.6M334.5 307.0V438.0M347.5 339.0V406.0M354.5 378.0V440.0M361.5 404.0V449.0M381.5 393.6V436.4M395.5 400.4V433.6M409.5 392.0V451.6M416.5 432.0V466.0M436.5 412.0V436.0M457.5 383.0V410.0M464.5 388.0V423.0M484.5 364.0V383.0M498.5 357.6V388.0M512.5 351.0V377.0M518.5 364.0V386.0M525.5 376.0V407.6M539.5 383.0V401.0M546.5 393.6V401.0M553.5 397.6V417.0M580.5 385.6V406.0M587.5 402.0V467.6M607.5 443.0V475.6M628.5 447.0V470.0M635.5 447.6V465.0M642.5 459.6V464.4M648.5 452.0V469.0M669.5 431.0V474.4M683.5 460.4V491.6M689.5 474.0V490.0M724.5 439.0V458.0M737.5 441.0V450.0M813.5 192.0V274.0M820.5 235.0V272.4M833.5 200.0V231.0M854.5 204.4V266.0M874.5 197.0V221.0M881.5 207.0V235.6M895.5 205.6V262.0M915.5 176.0V207.4M929.5 184.4V205.6M936.5 201.6V235.0M943.5 210.0V234.0M956.5 195.0V229.0M963.5 195.0V283.6M984.5 255.0V282.0M1011.5 192.4V234.0M1032.5 164.4V199.6M1045.5 180.4V220.0M1052.5 208.0V243.0M1066.5 216.0V258.0M1073.5 235.0V277.0M1087.5 235.0V261.6M1093.5 257.0V279.6M1107.5 237.6V269.0M1114.5 259.0V304.4M1121.5 275.0V301.0M1128.5 279.0V294.0M1141.5 274.0V301.6M1148.5 289.6V319.0M1155.5 300.0V350.0M1162.5 339.0V370.0M1169.5 317.6V367.6M1196.5 252.0V315.6M1217.5 244.0V275.6M1230.5 257.0V285.0M1244.5 262.4V307.6M1258.5 276.0V313.0M1264.5 303.0V326.4M1278.5 302.0V342.4M1299.5 298.0V327.0M1312.5 294.0V302.0M1319.5 295.0V317.0M1353.5 250.0V273.6M1360.5 265.6V285.6M1367.5 275.0V293.0M1388.5 261.0V287.6M1408.5 231.0V249.6M1422.5 229.6V255.5" stroke="#de2a3a" stroke-width="1" fill="none"/>
<path d="M30.9 284.0h3.1V303.6h-3.1zM38.0 281.6h3.1V284.4h-3.1zM45.0 280.0h3.1V281.6h-3.1zM52.0 279.0h3.1V280.6h-3.1zM79.0 288.0h3.1V310.0h-3.1zM86.0 265.6h3.1V288.4h-3.1zM120.0 289.6h3.1V296.0h-3.1zM140.9 317.5h3.1V319.1h-3.1zM154.9 308.0h3.1V322.0h-3.1zM167.9 287.0h3.1V315.6h-3.1zM174.9 265.6h3.1V287.6h-3.1zM181.9 243.0h3.1V266.0h-3.1zM188.9 240.0h3.1V244.0h-3.1zM202.9 244.0h3.1V254.4h-3.1zM215.9 203.0h3.1V245.0h-3.1zM236.9 236.4h3.1V246.0h-3.1zM249.9 231.0h3.1V249.6h-3.1zM256.9 224.0h3.1V232.4h-3.1zM270.9 232.4h3.1V234.4h-3.1zM277.9 231.0h3.1V234.0h-3.1zM290.9 235.0h3.1V257.0h-3.1zM297.9 169.6h3.1V235.0h-3.1zM304.9 160.0h3.1V169.0h-3.1zM318.9 212.0h3.1V218.4h-3.1zM338.9 345.6h3.1V431.6h-3.1zM366.9 420.0h3.1V443.6h-3.1zM373.9 403.0h3.1V420.4h-3.1zM386.9 424.0h3.1V427.6h-3.1zM400.9 423.0h3.1V427.6h-3.1zM421.9 435.0h3.1V450.0h-3.1zM427.9 425.6h3.1V435.6h-3.1zM441.9 420.0h3.1V430.0h-3.1zM448.9 396.0h3.1V419.6h-3.1zM468.9 397.6h3.1V410.4h-3.1zM475.9 367.0h3.1V398.0h-3.1zM489.9 363.0h3.1V380.4h-3.1zM503.9 373.6h3.1V387.0h-3.1zM531.0 386.4h3.1V399.6h-3.1zM558.0 411.0h3.1V415.6h-3.1zM565.0 393.6h3.1V410.0h-3.1zM572.0 390.4h3.1V395.0h-3.1zM593.0 452.0h3.1V461.0h-3.1zM600.0 449.6h3.1V452.4h-3.1zM613.0 451.0h3.1V470.0h-3.1zM620.0 448.0h3.1V451.6h-3.1zM654.0 448.4h3.1V464.0h-3.1zM661.0 435.0h3.1V447.0h-3.1zM675.0 463.0h3.1V470.0h-3.1zM695.0 487.0h3.1V488.6h-3.1zM702.0 477.6h3.1V486.4h-3.1zM709.0 476.2h3.1V477.8h-3.1zM716.0 440.0h3.1V478.4h-3.1zM730.0 443.0h3.1V454.0h-3.1zM743.0 417.6h3.1V448.0h-3.1zM750.0 401.6h3.1V418.0h-3.1zM757.0 395.0h3.1V402.0h-3.1zM764.0 375.0h3.1V395.6h-3.1zM771.0 347.0h3.1V375.6h-3.1zM777.0 320.0h3.1V346.0h-3.1zM784.0 285.6h3.1V321.6h-3.1zM791.0 262.0h3.1V286.0h-3.1zM798.0 255.0h3.1V265.0h-3.1zM805.0 223.0h3.1V255.6h-3.1zM825.0 209.6h3.1V250.0h-3.1zM839.0 224.4h3.1V230.4h-3.1zM846.0 216.4h3.1V224.4h-3.1zM860.0 221.6h3.1V259.6h-3.1zM866.0 203.6h3.1V222.0h-3.1zM887.0 209.6h3.1V231.6h-3.1zM901.0 239.0h3.1V251.6h-3.1zM908.0 205.6h3.1V239.0h-3.1zM921.0 189.0h3.1V206.0h-3.1zM949.0 202.4h3.1V232.4h-3.1zM969.0 266.4h3.1V274.0h-3.1zM976.0 262.4h3.1V268.0h-3.1zM990.0 242.0h3.1V277.6h-3.1zM997.0 237.6h3.1V241.6h-3.1zM1003.0 198.4h3.1V237.6h-3.1zM1017.0 217.6h3.1V233.6h-3.1zM1024.0 189.6h3.1V218.0h-3.1zM1038.0 184.0h3.1V195.6h-3.1zM1058.0 222.4h3.1V226.4h-3.1zM1079.0 244.0h3.1V259.6h-3.1zM1099.0 239.0h3.1V275.6h-3.1zM1133.0 280.4h3.1V293.0h-3.1zM1174.0 303.0h3.1V348.0h-3.1zM1181.0 283.0h3.1V302.0h-3.1zM1188.0 261.6h3.1V283.0h-3.1zM1202.0 293.6h3.1V299.6h-3.1zM1209.0 254.0h3.1V294.0h-3.1zM1222.0 260.0h3.1V272.4h-3.1zM1236.0 264.0h3.1V284.4h-3.1zM1250.0 278.0h3.1V291.6h-3.1zM1270.0 307.0h3.1V319.6h-3.1zM1284.0 326.0h3.1V331.6h-3.1zM1291.0 308.4h3.1V324.4h-3.1zM1305.0 298.4h3.1V321.0h-3.1zM1325.0 302.0h3.1V307.6h-3.1zM1332.0 283.0h3.1V302.0h-3.1zM1339.0 269.6h3.1V283.6h-3.1zM1346.0 255.0h3.1V270.0h-3.1zM1373.0 268.4h3.1V283.6h-3.1zM1380.0 265.0h3.1V269.0h-3.1zM1394.0 249.6h3.1V265.0h-3.1zM1400.0 241.6h3.1V250.0h-3.1zM1414.0 236.0h3.1V242.4h-3.1z" fill="#52ab5c" stroke="#175f1c" stroke-width="0.9"/>
<path d="M17.9 277.6h3.1V293.6h-3.1zM24.9 293.6h3.1V302.0h-3.1zM59.0 279.0h3.1V296.0h-3.1zM66.0 295.6h3.1V297.6h-3.1zM72.0 296.0h3.1V310.0h-3.1zM93.0 265.6h3.1V267.2h-3.1zM100.0 267.0h3.1V275.0h-3.1zM107.0 275.0h3.1V287.6h-3.1zM114.0 287.0h3.1V296.0h-3.1zM127.0 289.6h3.1V303.6h-3.1zM133.9 303.0h3.1V319.0h-3.1zM147.9 318.0h3.1V322.0h-3.1zM160.9 308.0h3.1V315.6h-3.1zM195.9 240.0h3.1V254.0h-3.1zM208.9 243.4h3.1V245.0h-3.1zM222.9 203.0h3.1V225.0h-3.1zM229.9 226.0h3.1V247.0h-3.1zM243.9 236.0h3.1V250.0h-3.1zM263.9 222.4h3.1V234.0h-3.1zM284.9 231.0h3.1V256.4h-3.1zM311.9 159.0h3.1V218.0h-3.1zM325.9 213.6h3.1V312.4h-3.1zM332.9 312.0h3.1V430.4h-3.1zM345.9 345.6h3.1V379.6h-3.1zM352.9 379.0h3.1V430.0h-3.1zM359.9 429.6h3.1V443.6h-3.1zM379.9 403.0h3.1V427.0h-3.1zM393.9 424.4h3.1V427.6h-3.1zM407.9 423.0h3.1V449.0h-3.1zM414.9 448.0h3.1V450.0h-3.1zM434.9 425.6h3.1V428.4h-3.1zM455.9 396.4h3.1V398.0h-3.1zM462.9 397.6h3.1V410.4h-3.1zM482.9 365.6h3.1V380.0h-3.1zM496.9 363.0h3.1V387.0h-3.1zM510.9 373.4h3.1V375.0h-3.1zM517.0 374.0h3.1V378.4h-3.1zM524.0 377.6h3.1V401.0h-3.1zM538.0 386.0h3.1V398.0h-3.1zM545.0 397.0h3.1V399.4h-3.1zM552.0 398.4h3.1V414.0h-3.1zM579.0 390.0h3.1V404.0h-3.1zM586.0 403.0h3.1V461.0h-3.1zM606.0 449.6h3.1V471.0h-3.1zM627.0 448.4h3.1V452.4h-3.1zM634.0 451.0h3.1V462.0h-3.1zM641.0 461.0h3.1V463.6h-3.1zM647.0 462.2h3.1V463.8h-3.1zM668.0 435.6h3.1V472.0h-3.1zM682.0 462.4h3.1V483.6h-3.1zM688.0 483.0h3.1V489.0h-3.1zM723.0 440.0h3.1V454.4h-3.1zM736.0 444.0h3.1V447.6h-3.1zM812.0 221.6h3.1V246.0h-3.1zM819.0 245.6h3.1V250.4h-3.1zM832.0 209.6h3.1V230.0h-3.1zM853.0 216.4h3.1V259.6h-3.1zM873.0 203.6h3.1V213.0h-3.1zM880.0 212.4h3.1V230.4h-3.1zM894.0 209.6h3.1V251.0h-3.1zM914.0 205.0h3.1V207.0h-3.1zM928.0 189.0h3.1V204.0h-3.1zM935.0 202.4h3.1V223.6h-3.1zM942.0 221.6h3.1V233.0h-3.1zM955.0 203.0h3.1V214.0h-3.1zM962.0 213.6h3.1V273.0h-3.1zM983.0 261.6h3.1V277.0h-3.1zM1010.0 197.0h3.1V233.0h-3.1zM1031.0 189.6h3.1V196.0h-3.1zM1044.0 184.4h3.1V210.0h-3.1zM1051.0 209.6h3.1V226.0h-3.1zM1065.0 221.6h3.1V248.0h-3.1zM1072.0 248.0h3.1V259.6h-3.1zM1086.0 243.0h3.1V258.0h-3.1zM1092.0 257.6h3.1V276.0h-3.1zM1106.0 239.0h3.1V259.6h-3.1zM1113.0 259.6h3.1V280.0h-3.1zM1120.0 280.0h3.1V290.0h-3.1zM1127.0 291.0h3.1V293.6h-3.1zM1140.0 280.4h3.1V292.0h-3.1zM1147.0 291.0h3.1V318.4h-3.1zM1154.0 317.6h3.1V341.0h-3.1zM1161.0 339.5h3.1V341.1h-3.1zM1168.0 340.0h3.1V348.0h-3.1zM1195.0 262.0h3.1V299.6h-3.1zM1216.0 253.6h3.1V273.0h-3.1zM1229.0 260.0h3.1V284.4h-3.1zM1243.0 264.0h3.1V291.6h-3.1zM1257.0 277.0h3.1V306.0h-3.1zM1263.0 307.0h3.1V320.0h-3.1zM1277.0 308.0h3.1V332.0h-3.1zM1298.0 308.0h3.1V321.0h-3.1zM1311.0 298.0h3.1V299.6h-3.1zM1318.0 298.4h3.1V307.6h-3.1zM1352.0 255.0h3.1V270.0h-3.1zM1359.0 269.6h3.1V283.6h-3.1zM1366.0 282.2h3.1V283.8h-3.1zM1387.0 264.2h3.1V265.8h-3.1zM1407.0 240.9h3.1V242.5h-3.1zM1421.0 236.2h3.1V247.1h-3.1z" fill="#d23a50" stroke="#93202b" stroke-width="0.9"/>
<path d="M13.0 186.2C21.8 188.5 46.5 195.4 66.0 200.0C85.5 204.6 112.7 210.2 130.0 214.0C147.3 217.8 156.7 221.1 170.0 223.0C183.3 224.9 196.7 225.0 210.0 225.6C223.3 226.2 236.7 226.2 250.0 226.4C263.3 226.6 278.3 227.3 290.0 227.0C301.7 226.7 311.7 223.8 320.0 224.5C328.3 225.2 333.3 228.4 340.0 231.0C346.7 233.6 353.3 237.0 360.0 240.0C366.7 243.0 371.7 245.3 380.0 249.0C388.3 252.7 400.0 257.8 410.0 262.0C420.0 266.2 430.0 270.5 440.0 274.0C450.0 277.5 460.0 280.3 470.0 283.0C480.0 285.7 488.7 287.2 500.0 290.0C511.3 292.8 528.0 297.3 538.0 300.0C548.0 302.7 549.7 303.0 560.0 306.0C570.3 309.0 586.7 313.8 600.0 318.0C613.3 322.2 629.0 327.3 640.0 331.0C651.0 334.7 657.7 337.2 666.0 340.0C674.3 342.8 682.7 345.5 690.0 348.0C697.3 350.5 703.3 353.0 710.0 355.0C716.7 357.0 723.3 358.7 730.0 360.0C736.7 361.3 743.3 362.4 750.0 363.0C756.7 363.6 763.3 364.3 770.0 363.6C776.7 362.9 783.3 360.9 790.0 359.0C796.7 357.1 803.3 354.3 810.0 352.0C816.7 349.7 824.7 347.0 830.0 345.0C835.3 343.0 835.3 342.8 842.0 340.0C848.7 337.2 862.0 331.2 870.0 328.0C878.0 324.8 883.3 323.0 890.0 321.0C896.7 319.0 903.3 318.0 910.0 316.0C916.7 314.0 923.3 311.0 930.0 309.0C936.7 307.0 943.3 305.5 950.0 304.0C956.7 302.5 961.7 301.7 970.0 300.0C978.3 298.3 991.7 295.9 1000.0 294.0C1008.3 292.1 1013.3 290.3 1020.0 288.5C1026.7 286.7 1033.3 284.4 1040.0 283.0C1046.7 281.6 1053.3 280.8 1060.0 280.0C1066.7 279.2 1073.3 278.9 1080.0 278.4C1086.7 277.9 1093.3 277.1 1100.0 277.0C1106.7 276.9 1113.3 277.4 1120.0 277.6C1126.7 277.8 1133.3 277.8 1140.0 278.4C1146.7 279.0 1153.3 280.3 1160.0 281.0C1166.7 281.7 1173.3 282.2 1180.0 282.6C1186.7 283.0 1193.3 283.6 1200.0 283.3C1206.7 283.0 1213.3 281.6 1220.0 281.0C1226.7 280.4 1233.3 279.6 1240.0 279.6C1246.7 279.6 1253.3 280.3 1260.0 281.0C1266.7 281.7 1273.3 282.8 1280.0 283.6C1286.7 284.4 1293.3 285.1 1300.0 285.6C1306.7 286.1 1313.3 286.3 1320.0 286.4C1326.7 286.5 1333.3 286.1 1340.0 286.0C1346.7 285.9 1353.3 285.8 1360.0 285.6C1366.7 285.4 1373.3 285.4 1380.0 285.0C1386.7 284.6 1393.2 283.8 1400.0 283.0C1406.8 282.2 1417.5 280.8 1421.0 280.3" stroke="#22c2d6" stroke-width="1.45" fill="none" stroke-linejoin="round"/>
<path d="M13.0 65.8C27.5 68.9 68.8 77.5 100.0 84.5C131.2 91.5 175.0 102.1 200.0 108.0C225.0 113.9 233.3 117.0 250.0 120.0C266.7 123.0 287.5 124.3 300.0 125.8C312.5 127.3 315.3 126.4 325.0 128.8C334.7 131.2 345.5 136.1 358.0 140.0C370.5 143.9 389.7 149.2 400.0 152.5C410.3 155.8 406.0 156.1 420.0 160.0C434.0 163.9 460.7 170.0 484.0 176.0C507.3 182.0 534.0 189.1 560.0 196.0C586.0 202.9 621.7 212.8 640.0 217.6C658.3 222.4 658.3 221.8 670.0 225.0C681.7 228.2 698.3 233.7 710.0 237.0C721.7 240.3 731.7 243.0 740.0 245.0C748.3 247.0 753.5 248.1 760.0 249.0C766.5 249.9 767.3 250.4 779.0 250.6C790.7 250.8 814.8 250.3 830.0 250.0C845.2 249.7 856.7 249.5 870.0 249.0C883.3 248.5 898.3 247.6 910.0 247.0C921.7 246.4 928.3 246.0 940.0 245.6C951.7 245.2 966.7 244.8 980.0 244.4C993.3 244.0 1006.7 243.3 1020.0 243.0C1033.3 242.7 1046.7 242.4 1060.0 242.4C1073.3 242.4 1086.7 242.6 1100.0 243.0C1113.3 243.4 1132.0 244.6 1140.0 245.0C1148.0 245.4 1141.3 245.0 1148.0 245.6C1154.7 246.2 1168.0 247.9 1180.0 248.6C1192.0 249.3 1206.7 249.4 1220.0 250.0C1233.3 250.6 1246.7 251.5 1260.0 252.4C1273.3 253.3 1286.7 254.7 1300.0 255.6C1313.3 256.5 1326.7 257.4 1340.0 258.0C1353.3 258.6 1370.0 258.9 1380.0 259.0C1390.0 259.1 1393.2 258.8 1400.0 258.6C1406.8 258.4 1417.5 258.1 1421.0 258.0" stroke="#55d455" stroke-width="1.6" fill="none" stroke-linejoin="round"/>
<path d="M13.0 65.8C27.5 68.9 68.8 77.5 100.0 84.5C131.2 91.5 175.0 102.1 200.0 108.0C225.0 113.9 233.3 117.0 250.0 120.0C266.7 123.0 287.5 124.3 300.0 125.8C312.5 127.3 315.3 126.4 325.0 128.8C334.7 131.2 345.5 136.1 358.0 140.0C370.5 143.9 389.7 149.2 400.0 152.5C410.3 155.8 406.0 156.1 420.0 160.0C434.0 163.9 460.7 170.0 484.0 176.0C507.3 182.0 534.0 189.1 560.0 196.0C586.0 202.9 621.7 212.8 640.0 217.6C658.3 222.4 658.3 221.8 670.0 225.0C681.7 228.2 698.3 233.7 710.0 237.0C721.7 240.3 731.7 243.0 740.0 245.0C748.3 247.0 753.5 248.1 760.0 249.0C766.5 249.9 775.8 250.3 779.0 250.6" stroke="#5b6c0c" stroke-width="1.6" fill="none" stroke-dasharray="3 1.2" stroke-opacity="0.88"/>
<path d="M1148.0 245.6C1153.3 246.1 1168.0 247.9 1180.0 248.6C1192.0 249.3 1206.7 249.4 1220.0 250.0C1233.3 250.6 1246.7 251.5 1260.0 252.4C1273.3 253.3 1286.7 254.7 1300.0 255.6C1313.3 256.5 1326.7 257.4 1340.0 258.0C1353.3 258.6 1370.3 258.9 1380.0 259.0C1389.7 259.1 1395.0 258.7 1398.0 258.6" stroke="#8a8a20" stroke-width="1.7" fill="none" stroke-opacity="0.85"/>
<path d="M13.0 221.7C17.5 223.1 31.2 226.9 40.0 230.0C48.8 233.1 59.3 237.7 66.0 240.0C72.7 242.3 72.7 242.3 80.0 243.6C87.3 244.9 101.7 246.3 110.0 248.0C118.3 249.7 123.3 251.8 130.0 254.0C136.7 256.2 143.3 259.3 150.0 261.0C156.7 262.7 163.3 264.2 170.0 264.4C176.7 264.6 183.3 263.0 190.0 262.4C196.7 261.8 203.3 261.9 210.0 261.0C216.7 260.1 223.3 258.2 230.0 257.0C236.7 255.8 243.3 255.0 250.0 254.0C256.7 253.0 263.3 251.8 270.0 251.0C276.7 250.2 284.0 250.3 290.0 249.0C296.0 247.7 301.0 244.3 306.0 243.0C311.0 241.7 315.7 240.2 320.0 241.0C324.3 241.8 328.7 245.9 332.0 248.0C335.3 250.1 336.7 251.4 340.0 253.6C343.3 255.8 348.7 258.4 352.0 261.0C355.3 263.6 355.3 265.3 360.0 269.0C364.7 272.7 372.7 277.8 380.0 283.0C387.3 288.2 397.3 295.2 404.0 300.0C410.7 304.8 414.0 308.0 420.0 312.0C426.0 316.0 433.3 320.7 440.0 324.0C446.7 327.3 453.3 329.8 460.0 332.0C466.7 334.2 473.3 335.5 480.0 337.0C486.7 338.5 493.3 339.7 500.0 341.0C506.7 342.3 513.3 343.5 520.0 345.0C526.7 346.5 533.3 348.2 540.0 350.0C546.7 351.8 553.3 354.3 560.0 356.0C566.7 357.7 573.3 357.7 580.0 360.0C586.7 362.3 593.3 366.8 600.0 370.0C606.7 373.2 615.0 376.9 620.0 379.0C625.0 381.1 626.7 381.1 630.0 382.4C633.3 383.7 635.0 385.2 640.0 387.0C645.0 388.8 651.7 389.7 660.0 393.0C668.3 396.3 681.7 403.5 690.0 407.0C698.3 410.5 703.3 412.3 710.0 414.0C716.7 415.7 723.3 416.4 730.0 417.0C736.7 417.6 743.3 418.4 750.0 417.6C756.7 416.8 764.3 414.4 770.0 412.0C775.7 409.6 779.0 407.0 784.0 403.0C789.0 399.0 794.0 393.5 800.0 388.0C806.0 382.5 813.3 376.0 820.0 370.0C826.7 364.0 834.0 357.0 840.0 352.0C846.0 347.0 851.0 344.0 856.0 340.0C861.0 336.0 864.3 332.0 870.0 328.0C875.7 324.0 885.0 318.8 890.0 316.0C895.0 313.2 895.7 313.7 900.0 311.0C904.3 308.3 911.0 303.2 916.0 300.0C921.0 296.8 923.7 295.2 930.0 292.0C936.3 288.8 945.7 283.0 954.0 281.0C962.3 279.0 974.0 280.7 980.0 280.0C986.0 279.3 985.0 278.7 990.0 277.0C995.0 275.3 1003.3 272.5 1010.0 270.0C1016.7 267.5 1023.3 264.5 1030.0 262.0C1036.7 259.5 1043.3 256.4 1050.0 255.0C1056.7 253.6 1061.7 253.8 1070.0 253.6C1078.3 253.4 1091.7 253.6 1100.0 254.0C1108.3 254.4 1113.3 255.0 1120.0 256.0C1126.7 257.0 1133.3 258.0 1140.0 260.0C1146.7 262.0 1153.3 266.0 1160.0 268.0C1166.7 270.0 1173.3 271.2 1180.0 272.0C1186.7 272.8 1193.3 272.9 1200.0 273.0C1206.7 273.1 1213.3 272.4 1220.0 272.4C1226.7 272.4 1233.3 272.3 1240.0 273.0C1246.7 273.7 1253.3 275.1 1260.0 276.4C1266.7 277.7 1273.3 279.7 1280.0 281.0C1286.7 282.3 1293.3 283.2 1300.0 284.0C1306.7 284.8 1313.3 285.6 1320.0 285.6C1326.7 285.6 1333.3 284.5 1340.0 284.0C1346.7 283.5 1353.3 282.8 1360.0 282.4C1366.7 282.0 1373.3 282.3 1380.0 281.6C1386.7 280.9 1393.2 279.2 1400.0 278.0C1406.8 276.8 1417.5 274.8 1421.0 274.2" stroke="#7a2c96" stroke-width="1.45" fill="none" stroke-linejoin="round"/>
<path d="M13.0 249.5C15.8 251.2 23.8 257.4 30.0 260.0C36.2 262.6 44.0 263.0 50.0 265.0C56.0 267.0 61.3 270.2 66.0 272.0C70.7 273.8 74.0 275.5 78.0 276.0C82.0 276.5 86.3 275.3 90.0 275.0C93.7 274.7 96.0 273.9 100.0 274.4C104.0 274.9 109.0 276.6 114.0 278.0C119.0 279.4 124.0 280.8 130.0 283.0C136.0 285.2 144.5 289.2 150.0 291.0C155.5 292.8 158.7 294.2 163.0 294.0C167.3 293.8 171.5 292.0 176.0 290.0C180.5 288.0 184.3 285.0 190.0 282.0C195.7 279.0 205.0 275.0 210.0 272.0C215.0 269.0 216.7 266.0 220.0 264.0C223.3 262.0 225.0 261.7 230.0 260.0C235.0 258.3 243.3 255.8 250.0 254.0C256.7 252.2 263.3 250.3 270.0 249.0C276.7 247.7 284.0 249.0 290.0 246.0C296.0 243.0 301.0 234.2 306.0 231.0C311.0 227.8 316.7 226.0 320.0 226.5C323.3 227.0 324.0 230.4 326.0 234.0C328.0 237.6 329.7 243.7 332.0 248.0C334.3 252.3 337.0 255.0 340.0 260.0C343.0 265.0 346.7 272.3 350.0 278.0C353.3 283.7 357.8 290.3 360.0 294.0C362.2 297.7 359.7 295.0 363.0 300.0C366.3 305.0 373.8 316.2 380.0 324.0C386.2 331.8 394.0 340.0 400.0 347.0C406.0 354.0 409.3 359.8 416.0 366.0C422.7 372.2 432.7 380.3 440.0 384.0C447.3 387.7 455.0 387.1 460.0 388.0C465.0 388.9 466.7 389.6 470.0 389.4C473.3 389.2 475.0 387.9 480.0 387.0C485.0 386.1 494.0 384.8 500.0 384.0C506.0 383.2 511.0 382.0 516.0 382.0C521.0 382.0 526.0 383.5 530.0 384.0C534.0 384.5 535.0 383.8 540.0 385.0C545.0 386.2 553.3 389.9 560.0 391.0C566.7 392.1 575.0 390.1 580.0 391.6C585.0 393.1 585.0 396.1 590.0 400.0C595.0 403.9 603.3 411.0 610.0 415.0C616.7 419.0 623.3 421.0 630.0 424.0C636.7 427.0 643.3 431.1 650.0 433.0C656.7 434.9 663.3 433.1 670.0 435.6C676.7 438.1 683.3 444.7 690.0 448.0C696.7 451.3 703.3 454.7 710.0 455.6C716.7 456.5 724.3 454.7 730.0 453.6C735.7 452.5 739.0 451.9 744.0 449.0C749.0 446.1 755.0 441.2 760.0 436.0C765.0 430.8 770.0 423.7 774.0 418.0C778.0 412.3 780.3 409.0 784.0 402.0C787.7 395.0 791.7 385.0 796.0 376.0C800.3 367.0 806.8 354.0 810.0 348.0C813.2 342.0 811.7 345.0 815.0 340.0C818.3 335.0 824.8 325.7 830.0 318.0C835.2 310.3 841.0 299.7 846.0 294.0C851.0 288.3 855.3 288.2 860.0 284.0C864.7 279.8 869.3 273.0 874.0 269.0C878.7 265.0 884.3 261.7 888.0 260.0C891.7 258.3 892.3 260.8 896.0 259.0C899.7 257.2 906.0 252.1 910.0 249.0C914.0 245.9 916.7 242.6 920.0 240.5C923.3 238.4 926.3 237.4 930.0 236.5C933.7 235.6 938.0 236.2 942.0 235.3C946.0 234.4 950.3 231.2 954.0 231.0C957.7 230.8 960.3 232.7 964.0 234.0C967.7 235.3 972.3 237.5 976.0 239.0C979.7 240.5 982.7 242.7 986.0 243.0C989.3 243.3 992.7 241.9 996.0 241.0C999.3 240.1 1002.7 238.6 1006.0 237.6C1009.3 236.6 1012.3 236.6 1016.0 235.0C1019.7 233.4 1024.0 230.2 1028.0 228.0C1032.0 225.8 1036.3 223.2 1040.0 222.0C1043.7 220.8 1046.7 220.9 1050.0 221.0C1053.3 221.1 1056.7 221.6 1060.0 222.4C1063.3 223.2 1066.7 224.4 1070.0 225.6C1073.3 226.8 1076.3 228.1 1080.0 229.6C1083.7 231.1 1088.0 233.2 1092.0 234.4C1096.0 235.6 1100.0 235.5 1104.0 237.0C1108.0 238.5 1111.7 241.3 1116.0 243.6C1120.3 245.9 1125.3 248.3 1130.0 251.0C1134.7 253.7 1139.7 256.7 1144.0 260.0C1148.3 263.3 1152.0 267.7 1156.0 271.0C1160.0 274.3 1164.0 278.0 1168.0 280.0C1172.0 282.0 1176.3 282.6 1180.0 283.0C1183.7 283.4 1186.7 282.4 1190.0 282.4C1193.3 282.3 1196.7 282.9 1200.0 282.7C1203.3 282.5 1206.7 281.8 1210.0 281.0C1213.3 280.2 1215.0 278.7 1220.0 278.0C1225.0 277.3 1234.0 276.8 1240.0 277.0C1246.0 277.2 1251.0 277.6 1256.0 279.0C1261.0 280.4 1265.3 283.4 1270.0 285.6C1274.7 287.8 1279.0 290.5 1284.0 292.4C1289.0 294.3 1294.7 296.1 1300.0 297.0C1305.3 297.9 1311.0 297.6 1316.0 297.6C1321.0 297.6 1326.0 297.8 1330.0 297.0C1334.0 296.2 1336.7 294.5 1340.0 293.0C1343.3 291.5 1346.7 289.0 1350.0 288.0C1353.3 287.0 1356.3 287.4 1360.0 287.0C1363.7 286.6 1368.0 286.4 1372.0 285.6C1376.0 284.8 1380.0 283.8 1384.0 282.4C1388.0 281.0 1392.0 279.1 1396.0 277.0C1400.0 274.9 1403.8 271.9 1408.0 270.0C1412.2 268.1 1418.8 266.5 1421.0 265.8" stroke="#f21d1d" stroke-width="1.4" fill="none" stroke-linejoin="round"/>
<path d="M807 173.5L1500 243" stroke="#55504e" stroke-width="1.5" stroke-dasharray="8.5 7" fill="none"/>
</g>
<g clip-path="url(#cr)">
<rect x="14" y="626.5" width="1454.5" height="73" fill="#7e57c2" fill-opacity="0.1"/>
<path d="M14 626.5H1468M14 699.5H1468" stroke="#6f6672" stroke-width="1.2" stroke-dasharray="5.8 8.2" stroke-dashoffset="1.6" fill="none"/>
<path d="M14 662.3H1468" stroke="#a89aa0" stroke-width="1.2" stroke-dasharray="5.8 8.2" stroke-dashoffset="1.6" fill="none"/>
<path d="M13.0 676.6 L30.0 680.0 L50.0 679.0 L66.6 678.0 L80.0 677.0 L94.0 674.0 L110.0 672.4 L130.0 673.0 L150.0 674.4 L162.4 674.0 L176.0 671.6 L190.0 668.0 L210.0 662.0 L224.0 657.0 L237.4 652.0 L251.4 648.0 L265.0 646.0 L279.0 647.6 L292.4 648.4 L306.4 647.0 L320.0 649.0 L336.0 656.0 L352.0 661.6 L368.0 668.0 L388.0 674.0 L402.2 681.6 L415.8 687.0 L429.6 686.0 L443.2 685.0 L457.0 682.4 L470.6 680.6 L484.4 677.6 L498.0 674.0 L511.8 670.0 L525.4 667.4 L539.2 666.4 L552.8 666.6 L566.6 666.4 L580.2 667.0 L593.8 671.0 L607.6 674.4 L621.2 676.0 L630.0 677.0 L650.0 679.4 L670.0 681.0 L690.0 682.0 L710.0 680.6 L730.0 677.0 L744.6 672.4 L758.2 668.0 L772.0 661.0 L785.6 649.0 L799.4 635.0 L813.0 626.0 L826.8 619.6 L840.4 616.0 L854.2 615.0 L867.8 616.0 L881.6 619.6 L895.2 625.6 L909.0 631.0 L922.6 634.0 L936.4 639.0 L940.0 639.4 L952.0 641.0 L968.0 647.0 L984.0 653.0 L1000.0 653.4 L1016.0 657.0 L1028.0 657.0 L1038.0 655.4 L1050.0 656.4 L1064.0 656.0 L1080.0 656.4 L1094.0 659.0 L1108.0 661.0 L1120.0 665.0 L1134.0 669.0 L1148.0 672.6 L1162.0 676.0 L1175.0 678.0 L1189.0 677.4 L1202.4 677.0 L1216.0 674.0 L1229.8 671.6 L1240.0 670.0 L1250.0 666.0 L1264.0 664.4 L1278.0 665.0 L1291.6 667.0 L1304.4 667.6 L1319.0 669.0 L1332.0 668.4 L1346.0 665.6 L1360.0 663.0 L1373.4 660.4 L1387.4 657.0 L1401.0 653.6 L1414.4 650.4 L1421.0 648.6" stroke="#f3e27c" stroke-width="2.2" fill="none" stroke-linejoin="round" stroke-linecap="round"/>
<path d="M14.0 676.4 L26.0 681.6 L32.4 673.6 L40.0 672.6 L46.4 672.0 L53.4 671.6 L60.0 677.6 L66.6 678.0 L73.6 683.0 L80.4 671.6 L88.0 661.4 L94.0 662.0 L101.0 666.4 L108.0 671.0 L114.4 675.0 L121.4 671.6 L128.0 678.0 L134.6 683.6 L142.0 682.8 L148.4 684.4 L155.4 675.6 L162.4 678.6 L169.4 661.6 L176.0 651.0 L183.0 640.6 L189.4 639.6 L196.4 649.0 L203.4 644.6 L210.6 644.6 L217.0 628.0 L223.6 643.0 L231.0 653.6 L237.4 650.0 L245.0 656.4 L251.4 649.0 L258.0 645.6 L265.0 651.0 L272.0 651.0 L279.0 649.6 L285.6 664.4 L292.4 652.0 L299.4 629.6 L306.4 626.4 L313.0 655.0 L320.0 654.0 L326.0 682.0 L333.6 698.4 L340.0 679.4 L347.4 684.0 L354.2 689.0 L361.0 691.0 L367.8 687.0 L374.0 682.4 L381.0 686.0 L388.4 685.4 L395.2 685.6 L402.2 684.6 L409.0 688.4 L415.8 689.0 L422.6 684.6 L429.6 681.6 L436.4 682.0 L443.2 679.0 L450.0 671.4 L457.0 671.6 L463.8 675.6 L470.6 670.4 L477.4 659.4 L484.4 664.0 L491.2 658.0 L498.0 666.6 L505.0 661.6 L511.8 661.4 L518.6 662.4 L525.4 671.4 L532.2 666.0 L539.2 670.0 L546.0 670.6 L552.8 676.0 L559.6 674.0 L566.6 666.0 L573.4 664.4 L580.2 670.4 L587.0 689.0 L593.8 685.6 L600.8 684.0 L607.6 690.0 L614.4 681.0 L621.2 679.0 L628.2 680.4 L630.0 681.0 L635.0 684.0 L641.8 684.4 L648.6 684.4 L655.6 674.4 L662.4 667.4 L669.2 682.0 L676.0 678.0 L682.8 684.4 L689.8 687.4 L696.6 685.6 L703.4 680.6 L710.2 679.6 L717.2 659.0 L724.0 665.6 L730.8 660.6 L737.6 662.0 L744.6 647.6 L751.4 640.6 L758.2 638.0 L765.0 630.0 L772.0 621.0 L778.8 613.0 L785.6 605.4 L792.4 601.6 L799.4 600.0 L806.2 595.0 L813.0 613.0 L819.8 616.0 L826.8 607.6 L833.6 620.6 L840.4 619.4 L847.2 617.0 L854.2 642.0 L861.0 631.6 L867.8 626.4 L874.6 631.0 L881.6 641.0 L888.4 635.0 L895.2 653.0 L902.0 649.0 L909.0 639.6 L915.8 639.4 L922.6 635.0 L929.4 641.0 L936.4 650.6 L940.0 653.0 L943.2 654.6 L949.0 644.4 L955.8 649.4 L963.8 670.4 L970.6 668.0 L977.4 666.4 L983.4 671.0 L990.0 658.6 L998.0 657.4 L1003.6 644.4 L1011.6 657.6 L1018.6 651.6 L1024.0 644.4 L1031.6 646.6 L1038.0 643.0 L1046.0 655.0 L1052.8 661.0 L1058.4 659.0 L1066.4 668.4 L1072.0 671.6 L1079.6 665.6 L1086.0 670.4 L1092.8 676.4 L1100.8 662.4 L1107.6 669.6 L1114.4 676.0 L1121.2 678.4 L1126.6 679.0 L1133.8 673.6 L1140.6 677.4 L1147.4 685.0 L1154.4 690.0 L1161.2 690.6 L1168.6 692.6 L1175.0 672.4 L1181.4 664.4 L1189.0 656.4 L1195.4 670.0 L1202.4 667.4 L1209.2 653.4 L1216.0 661.0 L1223.0 656.0 L1229.8 664.6 L1236.6 658.0 L1243.4 667.0 L1250.0 662.0 L1257.0 671.0 L1264.0 675.4 L1271.0 671.0 L1278.0 678.0 L1284.4 675.0 L1291.6 668.0 L1298.0 672.0 L1304.4 664.4 L1312.0 664.0 L1319.0 667.4 L1326.0 664.4 L1332.0 657.0 L1339.0 651.0 L1346.0 645.0 L1352.6 653.0 L1360.0 659.6 L1366.4 660.0 L1373.4 653.0 L1380.0 651.0 L1387.4 651.6 L1394.4 644.4 L1401.0 640.0 L1407.6 639.6 L1414.4 637.6 L1421.0 646.0" stroke="#7d55c4" stroke-width="1.3" fill="none" stroke-linejoin="round"/>
</g>
<path d="M13 581.8H1587M13 711.6H1587" stroke="#77615b" stroke-width="1.4" fill="none"/>
<path d="M1468.7 36V753" stroke="#8a736b" stroke-width="1.3" fill="none"/>
<text x="1482.0" y="61.6" font-size="17" fill="#2a2422" textLength="30.0" lengthAdjust="spacingAndGlyphs">USD</text>
<text x="1482.0" y="145.9" font-size="17" fill="#2a2422" textLength="90.0" lengthAdjust="spacingAndGlyphs">100.000000</text>
<text x="1482.0" y="365.6" font-size="17" fill="#2a2422" textLength="81.0" lengthAdjust="spacingAndGlyphs">66.000000</text>
<text x="1482.0" y="416.3" font-size="17" fill="#2a2422" textLength="81.0" lengthAdjust="spacingAndGlyphs">60.000000</text>
<text x="1482.0" y="472.2" font-size="17" fill="#2a2422" textLength="81.0" lengthAdjust="spacingAndGlyphs">54.000000</text>
<text x="1482.0" y="524.6" font-size="17" fill="#2a2422" textLength="81.0" lengthAdjust="spacingAndGlyphs">49.000000</text>
<text x="1482.0" y="574.8" font-size="17" fill="#2a2422" textLength="81.0" lengthAdjust="spacingAndGlyphs">44.500000</text>
<g clip-path="url(#cr)">
<text x="1482.0" y="622.5" font-size="17" fill="#2a2422" textLength="43.5" lengthAdjust="spacingAndGlyphs">75.00</text>
<text x="1482.0" y="714.0" font-size="17" fill="#2a2422" textLength="43.5" lengthAdjust="spacingAndGlyphs">25.00</text>
</g>
<rect x="1469" y="181" width="103" height="53.5" rx="2" fill="#ffa726"/>
<rect x="1469" y="234" width="103" height="28" rx="2" fill="#f7525f"/>
<rect x="1469" y="261.7" width="103" height="26.3" rx="2" fill="#388e3c"/>
<rect x="1469" y="291" width="103" height="27.5" rx="2" fill="#388e3c"/>
<text x="1482.0" y="202.3" font-size="17" fill="#1a1208" textLength="80.5" lengthAdjust="spacingAndGlyphs">89.929420</text>
<text x="1482.0" y="227.5" font-size="17" fill="#1a1208" textLength="80.5" lengthAdjust="spacingAndGlyphs">84.273583</text>
<text x="1482.0" y="254.3" font-size="17" fill="#ffffff" textLength="80.5" lengthAdjust="spacingAndGlyphs" font-weight="bold">81.698644</text>
<text x="1482.0" y="281.0" font-size="17" fill="#ffffff" textLength="80.5" lengthAdjust="spacingAndGlyphs" font-weight="bold">79.551600</text>
<text x="1482.0" y="310.8" font-size="17" fill="#ffffff" textLength="80.5" lengthAdjust="spacingAndGlyphs" font-weight="bold">73.447095</text>
<text x="66.3" y="736.5" font-size="17" fill="#2a2422" textLength="26.6" lengthAdjust="spacingAndGlyphs" text-anchor="middle">Oct</text>
<text x="279.0" y="736.5" font-size="17" fill="#2a2422" textLength="29.5" lengthAdjust="spacingAndGlyphs" text-anchor="middle">Nov</text>
<text x="484.0" y="736.5" font-size="17" fill="#2a2422" textLength="29.0" lengthAdjust="spacingAndGlyphs" text-anchor="middle">Dec</text>
<text x="908.0" y="736.5" font-size="17" fill="#2a2422" textLength="27.5" lengthAdjust="spacingAndGlyphs" text-anchor="middle">Feb</text>
<text x="1100.0" y="736.5" font-size="17" fill="#2a2422" textLength="28.5" lengthAdjust="spacingAndGlyphs" text-anchor="middle">Mar</text>
<text x="1312.0" y="736.5" font-size="17" fill="#2a2422" textLength="26.0" lengthAdjust="spacingAndGlyphs" text-anchor="middle">Apr</text>
<text x="696.0" y="736.5" font-size="17" fill="#2a2422" textLength="40.0" lengthAdjust="spacingAndGlyphs" font-weight="bold" text-anchor="middle">2023</text>
<text x="23.0" y="61.0" font-size="14.5" fill="#2a2422" textLength="403.0" lengthAdjust="spacingAndGlyphs">AAVE / US Dollar (calculated by TradingView), 1D, BINANCE</text>
<text x="436.3" y="61.0" font-size="14.5" fill="#2a2422" textLength="9.5" lengthAdjust="spacingAndGlyphs">O</text>
<text x="446.2" y="61.0" font-size="14.5" fill="#b22833" textLength="69.0" lengthAdjust="spacingAndGlyphs">83.391138</text>
<text x="525.5" y="61.0" font-size="14.5" fill="#2a2422" textLength="9.0" lengthAdjust="spacingAndGlyphs">H</text>
<text x="535.0" y="61.0" font-size="14.5" fill="#b22833" textLength="69.0" lengthAdjust="spacingAndGlyphs">84.435414</text>
<text x="614.3" y="61.0" font-size="14.5" fill="#2a2422" textLength="6.5" lengthAdjust="spacingAndGlyphs">L</text>
<text x="621.3" y="61.0" font-size="14.5" fill="#b22833" textLength="69.0" lengthAdjust="spacingAndGlyphs">80.401077</text>
<text x="700.4" y="61.0" font-size="14.5" fill="#2a2422" textLength="8.5" lengthAdjust="spacingAndGlyphs">C</text>
<text x="709.0" y="61.0" font-size="14.5" fill="#b22833" textLength="69.0" lengthAdjust="spacingAndGlyphs">81.698644</text>
<text x="788.8" y="61.0" font-size="14.5" fill="#b22833" textLength="129.5" lengthAdjust="spacingAndGlyphs">−1.725348 (−2.07%)</text>
<text x="23.0" y="83.3" font-size="14.5" fill="#2a2422" textLength="136.0" lengthAdjust="spacingAndGlyphs">EMA 20/50/100/200</text>
<text x="169.0" y="83.3" font-size="14.5" fill="#f23030" textLength="68.5" lengthAdjust="spacingAndGlyphs">78.831660</text>
<text x="247.8" y="83.3" font-size="14.5" fill="#8a3bb0" textLength="67.0" lengthAdjust="spacingAndGlyphs">77.626721</text>
<text x="326.5" y="83.3" font-size="14.5" fill="#22b4c7" textLength="67.7" lengthAdjust="spacingAndGlyphs">76.733365</text>
<text x="404.7" y="83.3" font-size="14.5" fill="#2fbf2f" textLength="67.5" lengthAdjust="spacingAndGlyphs">80.050231</text>
<text x="23.0" y="105.8" font-size="14.5" fill="#2a2422" textLength="117.0" lengthAdjust="spacingAndGlyphs">DSR (200, 50, 20)</text>
<text x="150.0" y="105.8" font-size="14.5" fill="#2f62f5" textLength="68.5" lengthAdjust="spacingAndGlyphs">78.831660</text>
<text x="229.0" y="105.8" font-size="14.5" fill="#2f62f5" textLength="67.0" lengthAdjust="spacingAndGlyphs">77.626721</text>
<text x="307.2" y="105.8" font-size="14.5" fill="#2f62f5" textLength="67.5" lengthAdjust="spacingAndGlyphs">80.050231</text>
<text x="386.0" y="105.8" font-size="14.5" fill="#2f62f5" textLength="67.5" lengthAdjust="spacingAndGlyphs">80.050231</text>
<text x="23.0" y="128.5" font-size="14.5" fill="#2a2422" textLength="68.0" lengthAdjust="spacingAndGlyphs">Vol · AAVE</text>
<text x="101.3" y="128.5" font-size="14.5" fill="#ef5350" textLength="46.5" lengthAdjust="spacingAndGlyphs">6.528K</text>
<text x="23.0" y="607.0" font-size="14.5" fill="#2a2422" textLength="177.0" lengthAdjust="spacingAndGlyphs">RSI (14, close, SMA, 14, 2)</text>
<text x="211.0" y="607.0" font-size="14.5" fill="#7e57c2" textLength="37.0" lengthAdjust="spacingAndGlyphs">58.10</text>
<text x="257.5" y="607.0" font-size="14.5" fill="#f6e36a" textLength="37.0" lengthAdjust="spacingAndGlyphs">56.64</text>
<text x="304.5" y="607.0" font-size="14.5" fill="#2a2422">∅</text>
<text x="323.5" y="607.0" font-size="14.5" fill="#2a2422">∅</text>
<text x="12.5" y="25.2" font-size="15.5" fill="#d6d9e0" textLength="462.0" lengthAdjust="spacingAndGlyphs" font-weight="bold">AnShRoy038 published on TradingView.com, Apr 17, 2023 12:57 UTC</text>
<g transform="translate(12,766.6) scale(0.704)" fill="#d6d9e0"><path d="M14 22H7V11H0V4h14v18zM28 22h-8l7.5-18h8L28 22z"/><circle cx="20" cy="8" r="4"/></g>
<text x="42.0" y="782.0" font-size="17" fill="#d6d9e0" textLength="89.0" lengthAdjust="spacingAndGlyphs" font-weight="bold">TradingView</text>
</svg>
</body></html>
